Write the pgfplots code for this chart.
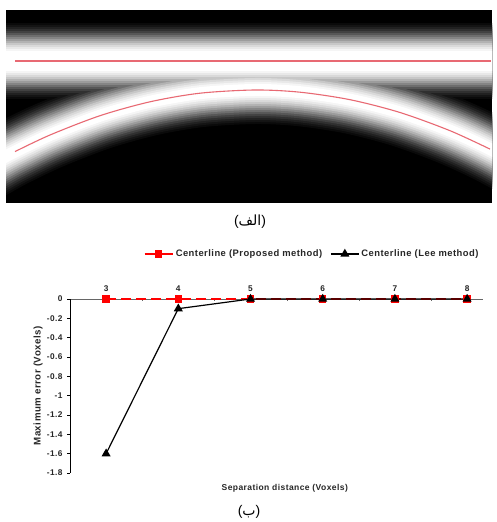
\documentclass[border=0pt]{standalone}
\usepackage{pgfplots}
\pgfplotsset{compat=1.18}
\usepackage{pgfplotstable}
\usepackage{fontspec}
\setmainfont{Liberation Sans}
\newfontfamily\chartfont[LetterSpace=5]{Liberation Sans}
\newfontfamily\arabicfont[Script=Arabic]{DejaVu Sans}
\TeXXeTstate=1
\definecolor{redline}{RGB}{232,105,115}

\pgfplotstableread{
x y
-30 176.9
0 159.6
15 151.6
50 135.0
100 115.7
150 101.8
200 93.2
255 90.0
300 92.2
350 99.7
400 112.5
450 130.7
490 149.1
530 170.9
}\arctab

\pgfplotstableread{
x y
15 151.6
50 135.0
100 115.7
150 101.8
200 93.2
255 90.0
300 92.2
350 99.7
400 112.5
450 130.7
490 149.1
}\arcred

\pgfplotstableread{
x y
-50 61
550 61
}\band

\pgfplotstableread{
x y
3 0
4 0
5 0
6 0
7 0
8 0
}\proposed

\pgfplotstableread{
x y
3 -1.6
4 -0.1
5 0
6 0
7 0
8 0
}\lee

% one glow level: width of top band, width of arc, grey level
\newcommand\glowlevel[3]{%
  \addplot[white!#3!black, line width=#1pt, forget plot, no markers] table {\band};
  \addplot[white!#3!black, line width=#2pt, forget plot, no markers, smooth, line join=round] table {\arctab};
}

\begin{document}
\begin{tikzpicture}
\path[use as bounding box] (0pt,0pt) rectangle (497pt,522pt);

% ---------- top image ----------
\begin{axis}[
  at={(6pt,512pt)}, anchor=north west,
  width=486pt, height=193pt, scale only axis,
  xmin=6, xmax=492, ymin=10, ymax=203, y dir=reverse,
  axis line style={draw=none}, ticks=none,
  axis background/.style={fill=black},
  clip=true,
]
\glowlevel{76}{68}{4}
\glowlevel{72}{64}{8}
\glowlevel{68}{60}{13}
\glowlevel{64}{56}{19}
\glowlevel{60}{52}{26}
\glowlevel{56}{48}{34}
\glowlevel{52}{44}{43}
\glowlevel{48}{40}{52}
\glowlevel{44}{36}{61}
\glowlevel{40}{32}{70}
\glowlevel{36}{28}{78}
\glowlevel{32}{24}{85}
\glowlevel{28}{20}{91}
\glowlevel{24}{16}{96}
\glowlevel{20}{12}{100}
\addplot[redline, line width=1.3pt, no markers] coordinates {(15,61) (491,61)};
\addplot[redline, line width=1.1pt, no markers, smooth] table {\arcred};
\end{axis}

\node[font=\fontsize{14}{16}\selectfont] at (250pt,300pt) {({\arabicfont\beginR الف\endR})};
\node[font=\fontsize{14}{16}\selectfont] at (249pt,10pt) {({\arabicfont\beginR ب\endR})};

% ---------- chart ----------
\begin{axis}[
  at={(70pt,49pt)}, anchor=south west,
  width=413pt, height=174pt, scale only axis,
  xmin=2.5, xmax=8.22, ymin=-1.8, ymax=0,
  axis x line*=top, axis y line*=left,
  x axis line style={draw=gray!80!black, line width=0.6pt},
  y axis line style={draw=black, line width=0.6pt},
  xtick={3,4,5,6,7,8},
  minor xtick={3.5,4.5,5.5,6.5,7.5},
  major x tick style={draw=none},
  minor x tick style={draw=gray!80!black, yshift=-2pt},
  minor tick length=2pt,
  ytick={-1.8,-1.6,-1.4,-1.2,-1,-0.8,-0.6,-0.4,-0.2,0},
  tick align=outside,
  major tick length=3pt,
  y tick style={black, line width=0.6pt},
  /pgf/number format/assume math mode=true,
  ticklabel style={font=\chartfont\bfseries\fontsize{8.3}{9}\selectfont, text=black!85},
  xticklabel style={yshift=1pt},
  yticklabel style={xshift=-1pt},
  ylabel={Maximum error (Voxels)},
  ylabel style={at={(axis description cs:-0.0775,0.5)}, anchor=center, rotate=0, font=\chartfont\bfseries\fontsize{9.7}{11}\selectfont, text=black!85},
  xlabel={Separation distance (Voxels)},
  xlabel style={at={(axis description cs:0.52,-0.086)}, anchor=center, font=\chartfont\bfseries\fontsize{8.5}{10}\selectfont, text=black!85},
  legend columns=2,
  legend style={at={(axis description cs:0.586,1.259)}, anchor=center, draw=none, fill=none,
    font=\chartfont\bfseries\fontsize{9.4}{11}\selectfont, text=black!85,
    /tikz/every even column/.append style={column sep=6pt}},
  legend image code/.code={\draw[mark repeat=2, mark phase=2, #1, solid] plot coordinates {(0pt,0pt) (14pt,0pt) (28pt,0pt)};},
  clip=false,
]
\addplot[red, line width=2.2pt, dash pattern=on 10pt off 5pt, mark=square*, mark size=2.6pt, mark options={solid, fill=red, draw=red}] table {\proposed};
\addlegendentry{Centerline (Proposed method)}
\addplot[black, line width=1.2pt, mark=triangle*, mark size=4pt, mark options={solid, fill=black}] table {\lee};
\addlegendentry{Centerline (Lee method)}
\end{axis}
\end{tikzpicture}
\end{document}
